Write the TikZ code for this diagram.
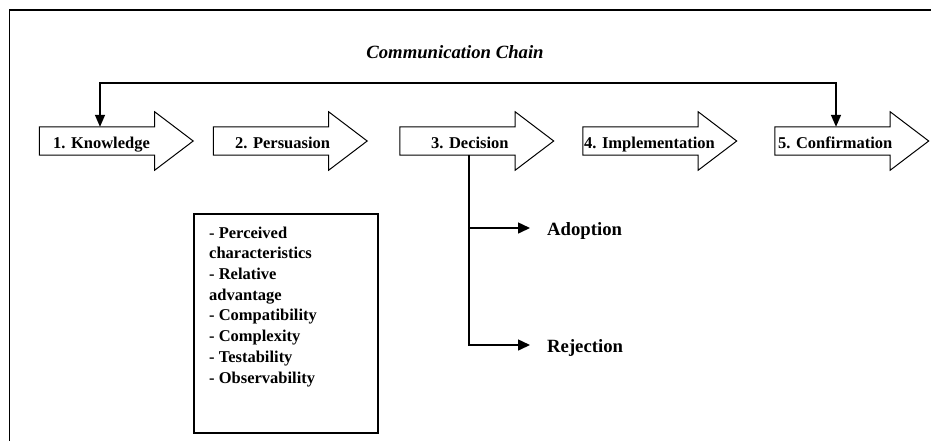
\documentclass[tikz,border=0pt]{standalone}
\usepackage{fontspec}
\setmainfont{Liberation Serif}
\usetikzlibrary{arrows.meta}
\begin{document}
\begin{tikzpicture}[x=1pt,y=-1pt,
  body/.style={minimum width=115pt,minimum height=28pt,inner sep=0pt},
  lbl/.style={font=\fontsize{16.5}{19}\selectfont\bfseries,inner sep=0pt,anchor=base west},
  big/.style={font=\fontsize{18.7}{22}\selectfont\bfseries,inner sep=0pt,anchor=base west},
  tri/.style={-{Triangle[length=12pt,width=11pt]}},
  tritri/.style={{Triangle[length=12pt,width=10pt]}-{Triangle[length=12pt,width=10pt]}},
  outl/.style={line width=1pt},
  conn/.style={line width=1.5pt}]
\path[use as bounding box] (0,0) rectangle (931,440);
% frame
\draw[line width=1.6pt] (9.5,445) -- (9.5,10) -- (940,10);
% title
\node[font=\fontsize{18.7}{22}\selectfont\bfseries\itshape,inner sep=0pt,anchor=base] (title) at (455,58) {Communication Chain};
% stage bodies
\node[body] (k) at (97,141) {};
\node[body] (p) at (271,141) {};
\node[body] (d) at (457.5,141) {};
\node[body] (i) at (640.5,141) {};
\node[body] (c) at (832.5,141) {};
\foreach \n in {k,p,d,i,c}
  \draw[outl] (\n.north west) -- (\n.north east) -- ([yshift=15pt]\n.north east)
    -- ([xshift=38.5pt]\n.east) -- ([yshift=-15pt]\n.south east) -- (\n.south east)
    -- (\n.south west) -- cycle;
% stage labels
\node[lbl] (kt) at (53,148) {1. Knowledge};
\node[lbl] (pt) at (235,148) {2. Persuasion};
\node[lbl] (dt) at (431,148) {3. Decision};
\node[lbl] (it) at (584,148) {4. Implementation};
\node[lbl] (ct) at (778,148) {5. Confirmation};
% feedback connector
\draw[conn,tritri] ([xshift=3pt]k.north) -- ++(0,-44) -| ([xshift=3.5pt]c.north);
% decision branches
\coordinate (dj) at ([xshift=11.5pt]d.south);
\node[big] (ad) at (547,235) {Adoption};
\node[big] (rj) at (547,352) {Rejection};
\coordinate (ae) at (530,228);
\coordinate (re) at (530,345);
\draw[conn,tri] (dj) |- (re);
\draw[conn,tri] (dj |- ae) -- (ae);
% characteristics box
\node[draw,line width=1.5pt,minimum width=184pt,minimum height=219pt,inner sep=0pt,anchor=north west] (bx) at (193,213) {};
\node[inner sep=0pt,anchor=north west,align=left,font=\fontsize{16.5}{20.7}\selectfont\bfseries] (bt) at (209,226.5)
  {- Perceived\\characteristics\\- Relative\\advantage\\- Compatibility\\- Complexity\\- Testability\\- Observability};
\end{tikzpicture}
\end{document}
